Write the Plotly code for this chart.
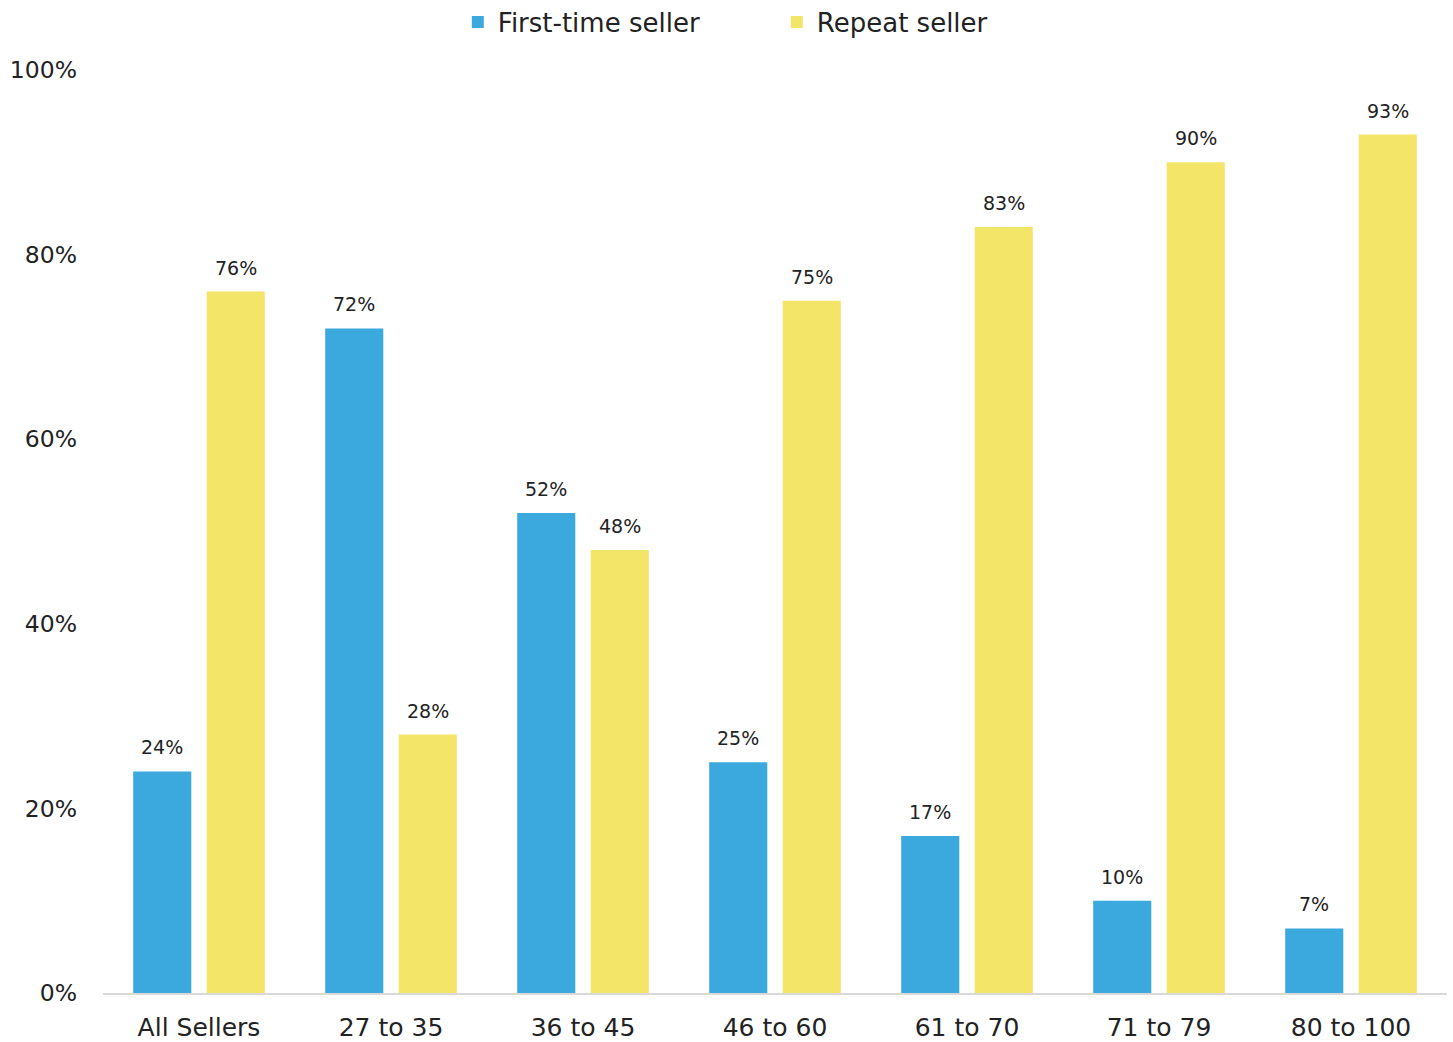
import plotly.graph_objects as go

categories = ["All Sellers", "27 to 35", "36 to 45", "46 to 60", "61 to 70", "71 to 79", "80 to 100"]
first_time = [24, 72, 52, 25, 17, 10, 7]
repeat = [76, 28, 48, 75, 83, 90, 93]
y_ticks = [0, 20, 40, 60, 80, 100]
y_tick_labels = ["0%", "20%", "40%", "60%", "80%", "100%"]

FONT = "DejaVu Sans"
BLUE = "#3BA9DE"
YELLOW = "#F3E568"
TXT = "#222222"

fig = go.Figure()
fig.add_trace(go.Bar(
    name="First-time seller", x=categories, y=first_time, offsetgroup="a",
    marker=dict(color=BLUE, line=dict(width=0)),
))
fig.add_trace(go.Bar(
    name="Repeat seller", x=categories, y=repeat, offsetgroup="b",
    marker=dict(color=YELLOW, line=dict(width=0)),
))

# value labels above bars, placed through the axes
slot = 73.5  # px between bar centers within a group
for vals, shift in ((first_time, -slot / 2), (repeat, slot / 2)):
    for c, v in zip(categories, vals):
        fig.add_annotation(x=c, y=v, text=f"{v}%", showarrow=False,
                           xshift=shift, yshift=24, yanchor="middle",
                           font=dict(size=19, color=TXT, family=FONT))

fig.update_layout(
    width=1453, height=1042,
    margin=dict(l=103, r=6, t=70, b=49, autoexpand=False),
    paper_bgcolor="white", plot_bgcolor="white",
    font=dict(family=FONT, color=TXT),
    barmode="group", bargap=0.234, bargroupgap=0.21,
    showlegend=True,
    legend=dict(orientation="h", x=0.264, xanchor="left", y=1.052, yanchor="middle",
                font=dict(size=26, family=FONT, color=TXT),
                entrywidth=274, entrywidthmode="pixels", itemwidth=30),
)
fig.update_xaxes(showline=True, linecolor="#D9D9D9", linewidth=2, ticks="",
                 tickfont=dict(size=25, family=FONT, color=TXT), ticklabelstandoff=11,
                 showgrid=False, automargin=False)
fig.update_yaxes(range=[0, 100], tickvals=y_ticks, ticktext=y_tick_labels, showgrid=False,
                 zeroline=False, showline=False, ticks="",
                 tickfont=dict(size=23.5, family=FONT, color=TXT), ticklabelstandoff=25,
                 automargin=False)

fig.write_html("out.html", config={"displayModeBar": False},
               post_script="document.body.style.margin='0';")
